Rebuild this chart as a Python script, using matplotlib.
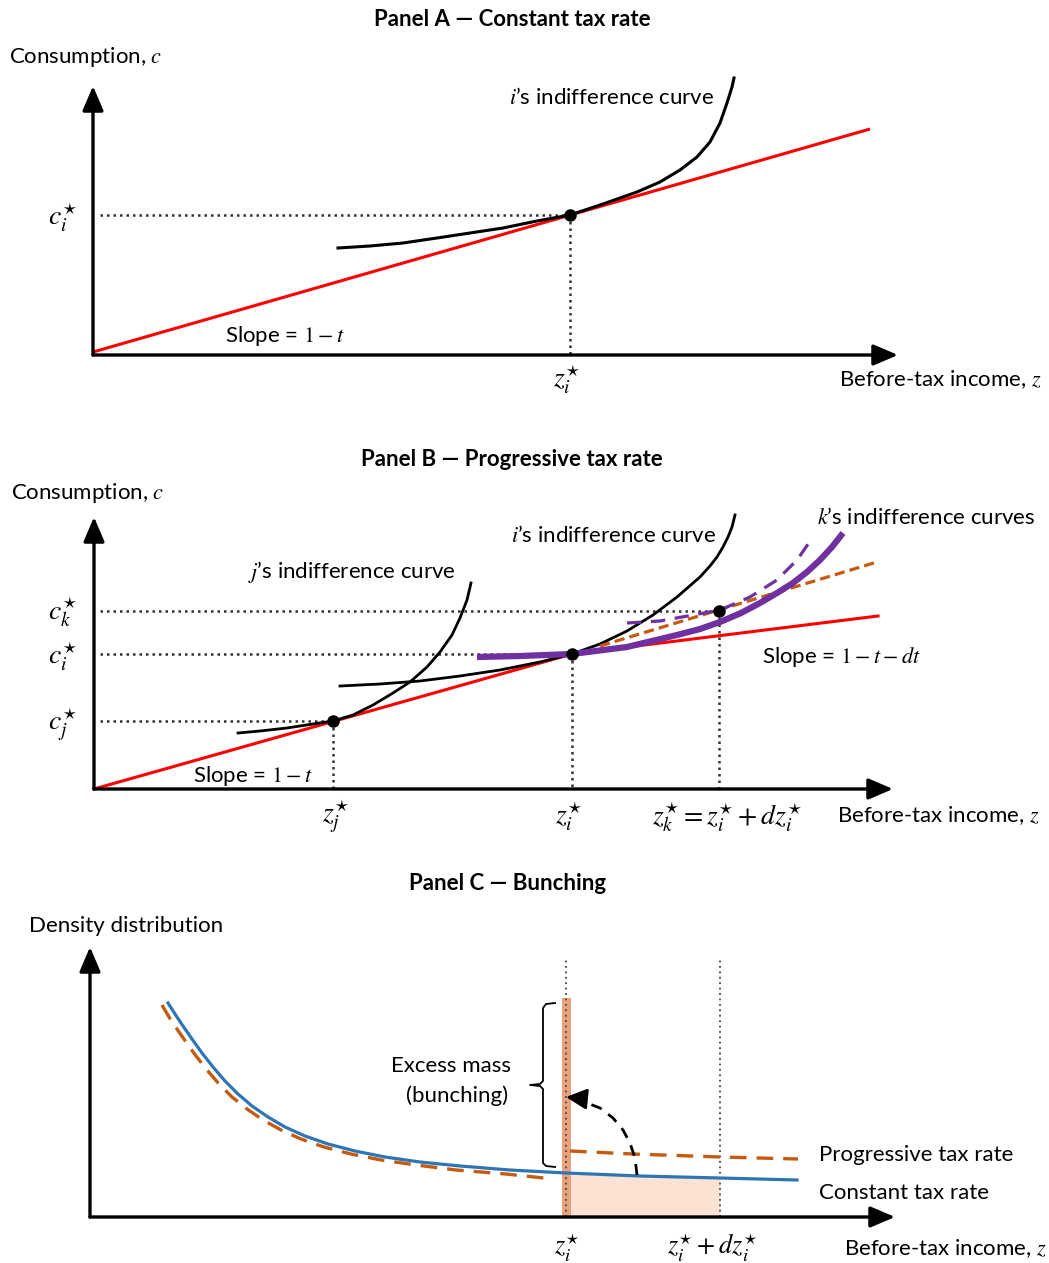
import matplotlib
matplotlib.use('Agg')
import matplotlib.pyplot as plt

plt.rcParams['font.family'] = ['Lato', 'DejaVu Sans']
plt.rcParams['mathtext.fontset'] = 'stix'

W, H = 1049, 1263

# ---------------- Panel A data (income z, consumption c) ----------------
A_budget_z = [0, 777]
A_budget_c = [3, 226]
A_ic_z = [245, 277, 310, 344, 377, 410, 444, 477, 510, 544, 567, 587, 604, 617, 627, 634, 639, 641]
A_ic_c = [107, 109, 112, 117, 122, 127, 134, 140, 151, 163, 173, 185, 198, 213, 232, 252, 268, 277]
A_opt_z, A_opt_c = 477, 140

# ---------------- Panel B data ----------------
B_budget_z = [0, 478, 784]
B_budget_c = [0, 135, 173]
B_j_z = [144, 166, 193, 219, 239, 259, 279, 299, 316, 333, 346, 358, 366, 373, 377]
B_j_c = [56, 58, 61, 65, 68, 74, 84, 96, 107, 122, 137, 154, 171, 189, 206]
B_i_z = [246, 286, 326, 366, 406, 446, 478, 506, 533, 559, 583, 606, 616, 623, 629, 634, 638, 641]
B_i_c = [103, 105, 108, 113, 119, 127, 135, 145, 158, 174, 192, 212, 223, 232, 242, 252, 262, 274]
B_k_solid_z = [383, 426, 478, 533, 583, 606, 626, 647, 666, 683, 699, 713, 726, 738, 749]
B_k_solid_c = [132, 133, 135, 142, 154, 160, 167, 176, 186, 196, 206, 217, 229, 242, 256]
B_k_dash_z = [533, 566, 599, 626, 656, 683, 703, 719]
B_k_dash_c = [166, 168, 174, 179, 192, 209, 229, 252]
B_tan_z = [506, 783]
B_tan_c = [143, 227]
B_opt_z = [239, 478, 625]
B_opt_c = [68, 135, 178]

# ---------------- Panel C data (income z, density d) ----------------
C_const_z = [78, 85, 93, 102, 112, 123, 135, 148, 162, 178, 195, 215, 238, 265, 295,
             330, 370, 420, 476, 550, 630, 707]
C_const_d = [214, 203, 191, 178, 164, 150, 136, 123, 111, 100, 90, 81, 73, 66, 60,
             55, 51, 47, 44, 41, 39, 37]
C_prog_left_z = [72, 79, 87, 96, 106, 117, 129, 142, 157, 173, 191, 211, 234, 261,
                 291, 326, 366, 416, 463]
C_prog_left_d = [212, 200, 188, 175, 161, 147, 133, 120, 108, 97, 87, 78, 70, 63,
                 57, 52, 47, 43, 38]
C_prog_right_z = [480, 543, 630, 708]
C_prog_right_d = [66, 63, 60, 58]
C_shade_z = [476, 550, 630]
C_shade_d = [44, 41, 39]
C_spike_z = [472, 481]
C_spike_top = 219
C_kink_z = 476
C_kink_dz = 630
C_arc_z = [547, 545, 540, 533, 523, 510, 497, 486]
C_arc_d = [42, 59, 74, 87, 99, 109, 114, 119]

fig = plt.figure(figsize=(W / 100, H / 100), dpi=100)


def panel(ox, oy, top, bottom):
    ax = fig.add_axes([0, 1 - bottom / H, 1, (bottom - top) / H])
    ax.set_xlim(-ox, W - ox)
    ax.set_ylim(oy - bottom, oy - top)
    ax.axis('off')
    return ax


def axes_arrows(ax, xtip, ytip):
    kw = dict(arrowstyle='-|>,head_length=0.75,head_width=0.32', lw=2.4,
              color='black', shrinkA=0, shrinkB=0, mutation_scale=20)
    ax.annotate('', xy=(xtip, 0), xytext=(0, 0), arrowprops=kw)
    ax.annotate('', xy=(0, ytip), xytext=(0, 0), arrowprops=kw)


DOT = dict(color='#333333', lw=1.8, ls=(0, (1, 1.6)))
FS = 16
MFS = 20
TFS = 16

# ================= Panel A =================
ax = panel(93, 355, 0, 420)
axes_arrows(ax, 805, 269)
ax.plot([7, A_opt_z], [A_opt_c, A_opt_c], **DOT)
ax.plot([A_opt_z, A_opt_z], [A_opt_c, 0], **DOT)
ax.plot(A_budget_z, A_budget_c, color='#FF0000', lw=2.2, solid_capstyle='butt')
ax.plot(A_ic_z, A_ic_c, color='black', lw=2.2)
ax.plot([A_opt_z], [A_opt_c], 'o', color='black', ms=8)
ax.text(419, 336, 'Panel A — Constant tax rate', ha='center', va='center',
        fontsize=TFS, fontweight='bold')
ax.text(-7, 298, 'Consumption, $c$', ha='center', va='center', fontsize=FS)
ax.text(518, 257, '$i$’s indifference curve', ha='center', va='center', fontsize=FS)
ax.text(-31, 137, '$c_i^{\\star}$', ha='center', va='center', fontsize=MFS)
ax.text(192, 19, 'Slope = $1 - t$', ha='center', va='center', fontsize=FS)
ax.text(474, -25, '$z_i^{\\star}$', ha='center', va='center', fontsize=MFS)
ax.text(847, -25, 'Before-tax income, $z$', ha='center', va='center', fontsize=FS)

# ================= Panel B =================
ax = panel(94, 789, 420, 845)
axes_arrows(ax, 799, 272)
for z, c in zip(B_opt_z, B_opt_c):
    ax.plot([6, z], [c, c], **DOT)
    ax.plot([z, z], [c, 0], **DOT)
ax.plot(B_budget_z, B_budget_c, color='#FF0000', lw=2.2)
ax.plot(B_j_z, B_j_c, color='black', lw=2.0)
ax.plot(B_i_z, B_i_c, color='black', lw=2.0)
ax.plot(B_tan_z, B_tan_c, color='#C55A11', lw=2.3, ls=(0, (3.2, 1.6)))
ax.plot(B_k_dash_z, B_k_dash_c, color='#7030A0', lw=2.3, ls=(0, (4.5, 3)))
ax.plot(B_k_solid_z, B_k_solid_c, color='#7030A0', lw=4.5, solid_capstyle='butt')
ax.plot(B_opt_z, B_opt_c, 'o', color='black', ms=8)
ax.text(418, 330, 'Panel B — Progressive tax rate', ha='center', va='center',
        fontsize=TFS, fontweight='bold')
ax.text(-6, 296, 'Consumption, $c$', ha='center', va='center', fontsize=FS)
ax.text(258, 217, '$j$’s indifference curve', ha='center', va='center', fontsize=FS)
ax.text(519, 254, '$i$’s indifference curve', ha='center', va='center', fontsize=FS)
ax.text(832, 271, '$k$’s indifference curves', ha='center', va='center', fontsize=FS)
ax.text(747, 132, 'Slope = $1 - t - dt$', ha='center', va='center', fontsize=FS)
ax.text(159, 13, 'Slope = $1 - t$', ha='center', va='center', fontsize=FS)
ax.text(-32, 177, '$c_k^{\\star}$', ha='center', va='center', fontsize=MFS)
ax.text(-32, 132, '$c_i^{\\star}$', ha='center', va='center', fontsize=MFS)
ax.text(-32, 64, '$c_j^{\\star}$', ha='center', va='center', fontsize=MFS)
ax.text(242, -28, '$z_j^{\\star}$', ha='center', va='center', fontsize=MFS)
ax.text(475, -28, '$z_i^{\\star}$', ha='center', va='center', fontsize=MFS)
ax.text(633, -28, '$z_k^{\\star} = z_i^{\\star} + dz_i^{\\star}$', ha='center',
        va='center', fontsize=MFS)
ax.text(844, -27, 'Before-tax income, $z$', ha='center', va='center', fontsize=FS)

# ================= Panel C =================
ax = panel(90, 1217, 845, 1263)
ax.fill_between(C_shade_z, 0, C_shade_d, color='#FBE2D3', lw=0)
ax.fill_between(C_spike_z, 0, C_spike_top, color='#E9A37C', lw=0)
ax.plot([C_kink_z, C_kink_z], [0, 259], color='#444444', lw=1.3, ls=(0, (1, 2)))
ax.plot([C_kink_dz, C_kink_dz], [0, 259], color='#444444', lw=1.3, ls=(0, (1, 2)))
axes_arrows(ax, 805, 270)
ax.plot(C_prog_left_z, C_prog_left_d, color='#C55A11', lw=2.4, ls=(0, (5, 3)))
ax.plot(C_prog_right_z, C_prog_right_d, color='#C55A11', lw=2.4, ls=(0, (5, 3)))
ax.plot(C_const_z, C_const_d, color='#2E75B6', lw=2.3)
ax.plot(C_arc_z, C_arc_d, color='black', lw=2.0, ls=(0, (4, 3)))
ax.annotate('', xy=(C_kink_z, C_arc_d[-1] + 1), xytext=(C_arc_z[-1], C_arc_d[-1]),
            arrowprops=dict(arrowstyle='-|>,head_length=0.7,head_width=0.35',
                            color='black', lw=2.0, shrinkA=0, shrinkB=0,
                            mutation_scale=18))
# brace
brace_z = [465, 456, 453, 453, 450, 440, 450, 453, 453, 456, 465]
brace_d = [214, 213, 209, 136, 133, 132, 131, 128, 54, 51, 50]
ax.plot(brace_z, brace_d, color='black', lw=1.3)
ax.text(418, 334, 'Panel C — Bunching', ha='center', va='center',
        fontsize=TFS, fontweight='bold')
ax.text(36, 291, 'Density distribution', ha='center', va='center', fontsize=FS)
ax.text(361, 151, 'Excess mass', ha='center', va='center', fontsize=FS)
ax.text(367, 121, '(bunching)', ha='center', va='center', fontsize=FS)
ax.text(729, 62, 'Progressive tax rate', ha='left', va='center', fontsize=FS)
ax.text(729, 24, 'Constant tax rate', ha='left', va='center', fontsize=FS)
ax.text(477, -30, '$z_i^{\\star}$', ha='center', va='center', fontsize=19)
ax.text(623, -30, '$z_i^{\\star} + dz_i^{\\star}$', ha='center', va='center', fontsize=19)
ax.text(855, -32, 'Before-tax income, $z$', ha='center', va='center', fontsize=FS)

fig.savefig('out.png', dpi=100)
